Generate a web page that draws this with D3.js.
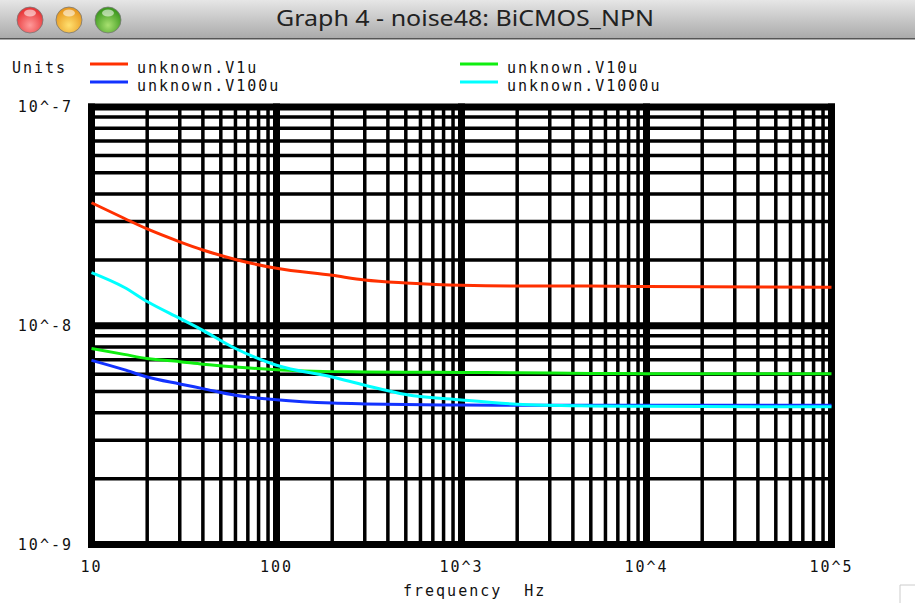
<!DOCTYPE html>
<html>
<head>
<meta charset="utf-8">
<script src="https://cdn.jsdelivr.net/npm/d3@7"></script>
<style>
  html, body { margin: 0; padding: 0; background: #fff; }
  svg { display: block; }
  .mono { font-family: "DejaVu Sans Mono", monospace; font-size: 15px; letter-spacing: 2px; fill: #111; }
</style>
</head>
<body>
<div class="chart"></div>
<script>
var svgWidth = 915;
var svgHeight = 603;

// data
var freq = [10, 15, 20, 30, 40, 60, 100, 200, 300, 500, 1000, 2000, 5000, 10000, 100000];
var V1u = [3.65e-8, 3.1e-8, 2.77e-8, 2.42e-8, 2.22e-8, 2.01e-8, 1.83e-8, 1.70e-8, 1.62e-8, 1.57e-8, 1.53e-8, 1.52e-8, 1.52e-8, 1.51e-8, 1.50e-8];
var V10u = [7.87e-9, 7.4e-9, 7.08e-9, 6.85e-9, 6.67e-9, 6.48e-9, 6.30e-9, 6.17e-9, 6.15e-9, 6.13e-9, 6.12e-9, 6.10e-9, 6.05e-9, 6.04e-9, 6.03e-9];
var V100u = [6.95e-9, 6.3e-9, 5.83e-9, 5.42e-9, 5.16e-9, 4.81e-9, 4.59e-9, 4.43e-9, 4.39e-9, 4.36e-9, 4.34e-9, 4.33e-9, 4.33e-9, 4.33e-9, 4.33e-9];
var V1000u = [1.75e-8, 1.5e-8, 1.29e-8, 1.08e-8, 9.53e-9, 7.87e-9, 6.60e-9, 5.83e-9, 5.35e-9, 4.85e-9, 4.58e-9, 4.38e-9, 4.30e-9, 4.28e-9, 4.26e-9];

var seriesNames = ["unknown.V1u", "unknown.V10u", "unknown.V100u", "unknown.V1000u"];
var seriesValues = [V1u, V10u, V100u, V1000u];
var seriesColors = ["#ff3000", "#10ee10", "#1232ff", "#00ffff"];

var xTicks = [10, 100, 1000, 10000, 100000];
var xTickLabels = ["10", "100", "10^3", "10^4", "10^5"];
var yTicks = [1e-7, 1e-8, 1e-9];
var yTickLabels = ["10^-7", "10^-8", "10^-9"];

var svg = d3.select(".chart")
  .append("svg")
  .attr("width", svgWidth)
  .attr("height", svgHeight);

// window title bar
var defs = svg.append("defs");
var grad = defs.append("linearGradient").attr("id", "bar").attr("x1", 0).attr("y1", 0).attr("x2", 0).attr("y2", 1);
grad.append("stop").attr("offset", "0%").attr("stop-color", "#e6e6e6");
grad.append("stop").attr("offset", "100%").attr("stop-color", "#a9a9a9");
svg.append("rect").attr("x", 0).attr("y", 0).attr("width", svgWidth).attr("height", 39).attr("fill", "url(#bar)");
svg.append("rect").attr("x", 0).attr("y", 38).attr("width", svgWidth).attr("height", 1.5).attr("fill", "#555");

var lights = [["#e8383a", "#ff9a9a"], ["#e89a20", "#ffe070"], ["#3f9a20", "#a8e070"]];
lights.forEach(function(c, i) {
  var g = defs.append("radialGradient").attr("id", "lt" + i).attr("cx", "50%").attr("cy", "70%").attr("r", "60%");
  g.append("stop").attr("offset", "0%").attr("stop-color", c[1]);
  g.append("stop").attr("offset", "100%").attr("stop-color", c[0]);
  svg.append("circle").attr("cx", 30 + i * 39).attr("cy", 20).attr("r", 13)
    .attr("fill", "url(#lt" + i + ")").attr("stroke", "#777").attr("stroke-width", 0.8);
  svg.append("ellipse").attr("cx", 30 + i * 39).attr("cy", 13).attr("rx", 6).attr("ry", 3.5)
    .attr("fill", "#fff").attr("opacity", 0.55);
});

svg.append("text")
  .attr("x", 465).attr("y", 26)
  .attr("text-anchor", "middle")
  .attr("textLength", 378)
  .attr("lengthAdjust", "spacingAndGlyphs")
  .style("font-family", "'Noto Sans', sans-serif")
  .style("font-size", "21px")
  .attr("fill", "#222")
  .text("Graph 4 - noise48: BiCMOS_NPN");

// scales
var xScale = d3.scaleLog().domain([10, 100000]).range([91.5, 831.5]);
var yScale = d3.scaleLog().domain([1e-9, 1e-7]).range([544.5, 107]);

var plot = svg.append("g");

// minor grid
var minorX = [];
for (var d = 10; d < 100000; d *= 10) {
  for (var m = 2; m <= 9; m++) minorX.push(d * m);
}
var minorY = [];
for (var e = 1e-9; e < 1e-7 * 0.99; e *= 10) {
  for (var k = 2; k <= 9; k++) minorY.push(e * k);
}

plot.selectAll(".vmin").data(minorX).enter().append("line")
  .attr("x1", d => xScale(d)).attr("x2", d => xScale(d))
  .attr("y1", yScale(1e-7)).attr("y2", yScale(1e-9))
  .attr("stroke", "#000").attr("stroke-width", 3.5);

plot.selectAll(".hmin").data(minorY).enter().append("line")
  .attr("x1", xScale(10)).attr("x2", xScale(100000))
  .attr("y1", d => yScale(d)).attr("y2", d => yScale(d))
  .attr("stroke", "#000").attr("stroke-width", 3.5);

// major grid (decades)
plot.selectAll(".vmaj").data(xTicks).enter().append("line")
  .attr("x1", d => xScale(d)).attr("x2", d => xScale(d))
  .attr("y1", yScale(1e-7) - 3.5).attr("y2", yScale(1e-9) + 3.5)
  .attr("stroke", "#000").attr("stroke-width", 7);

plot.selectAll(".hmaj").data(yTicks).enter().append("line")
  .attr("x1", xScale(10) - 3.5).attr("x2", xScale(100000) + 3.5)
  .attr("y1", d => yScale(d)).attr("y2", d => yScale(d))
  .attr("stroke", "#000").attr("stroke-width", 7);

// curves
var line = d3.line()
  .x((d, i) => xScale(freq[i]))
  .y(d => yScale(d))
  .curve(d3.curveMonotoneX);

seriesValues.forEach(function(vals, i) {
  plot.append("path")
    .attr("d", line(vals))
    .attr("fill", "none")
    .attr("stroke", seriesColors[i])
    .attr("stroke-width", 3);
});

// tick labels
svg.selectAll(".ylab").data(yTicks).enter().append("text")
  .attr("class", "mono")
  .attr("x", 73).attr("y", d => yScale(d) + 5)
  .attr("text-anchor", "end")
  .text((d, i) => yTickLabels[i]);

svg.selectAll(".xlab").data(xTicks).enter().append("text")
  .attr("class", "mono")
  .attr("x", d => xScale(d)).attr("y", 572)
  .attr("text-anchor", "middle")
  .text((d, i) => xTickLabels[i]);

svg.append("text")
  .attr("class", "mono")
  .attr("x", 403).attr("y", 596)
  .style("white-space", "pre")
  .attr("xml:space", "preserve")
  .text("frequency  Hz");

// legend
svg.append("text").attr("class", "mono").attr("x", 12).attr("y", 73).text("Units");
var legendPos = [[90, 64], [460, 64], [90, 82], [460, 82]];
seriesNames.forEach(function(name, i) {
  var p = legendPos[i];
  svg.append("line")
    .attr("x1", p[0]).attr("x2", p[0] + 38)
    .attr("y1", p[1]).attr("y2", p[1])
    .attr("stroke", seriesColors[i]).attr("stroke-width", 3);
  svg.append("text").attr("class", "mono")
    .attr("x", p[0] + 47).attr("y", p[1] + 9)
    .text(name);
});

// resize grip corner
svg.append("path")
  .attr("d", "M900,603 L900,585 L915,585")
  .attr("fill", "none").attr("stroke", "#ccc").attr("stroke-width", 1);
</script>
</body>
</html>
